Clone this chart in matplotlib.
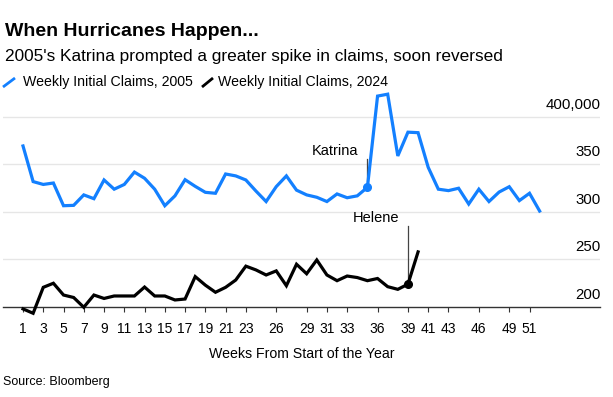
import matplotlib
matplotlib.use('Agg')
import matplotlib.pyplot as plt
from matplotlib.lines import Line2D

plt.rcParams['font.family'] = ['Liberation Sans', 'DejaVu Sans']

# weekly initial jobless claims, thousands
weeks_2005 = list(range(1, 53))
claims_2005 = [369.5, 332, 329, 330.5, 306.6, 307, 318, 314, 333.7, 324,
               329, 342, 335.5, 324, 306.6, 317, 334, 327, 320.7, 319.7,
               340, 338, 333.7, 322, 311, 326.7, 338, 323, 318, 315.5,
               311, 319, 315, 317, 326, 422, 424, 359, 384, 383.5,
               347, 324, 322.5, 325, 308.4, 324, 311, 321, 326.6, 312,
               319.7, 301]

weeks_2024 = list(range(1, 41))
claims_2024 = [198, 193.4, 220.7, 225, 212.6, 210, 199.7, 212.6, 209, 211.6,
               211.6, 211.6, 221, 211.6, 211.6, 207.4, 208.4, 232, 223, 215.5,
               220.7, 228.4, 243, 239, 233.7, 238, 222.4, 245, 235, 249.5,
               233.7, 227.7, 232.6, 231, 227.7, 230, 221.4, 218.6, 224, 258]

xticks = [1, 3, 5, 7, 9, 11, 13, 15, 17, 19, 21, 23, 26, 29, 31, 33, 36,
          39, 41, 43, 46, 49, 51]
yticks = [200, 250, 300, 350, 400]
ylabels = ['200', '250', '300', '350', '400,000']

katrina_week = 35
helene_week = 39

blue = '#1380ff'

fig = plt.figure(figsize=(6.13, 3.97), dpi=100)
ax = fig.add_axes([0.00447, 0.1908, 0.975, 0.5911])
ax.set_xlim(-1, 58)
ax.set_ylim(185, 432)

for v in yticks[1:]:
    ax.axhline(v, color='#e6e6e6', lw=1, zorder=0)

ax.plot(weeks_2005, claims_2005, color=blue, lw=2.3, solid_joinstyle='miter', zorder=3)
ax.plot(weeks_2024, claims_2024, color='black', lw=2.3, solid_joinstyle='miter', zorder=3)

# hurricane markers
k = claims_2005[katrina_week - 1]
h = claims_2024[helene_week - 1]
ax.plot([katrina_week, katrina_week], [k, 356], color='#444444', lw=0.9, zorder=2)
ax.plot([helene_week, helene_week], [h, 285], color='#444444', lw=0.9, zorder=2)
ax.plot(katrina_week, k, 'o', color=blue, ms=5.5, zorder=4)
ax.plot(helene_week, h, 'o', color='black', ms=5.5, zorder=4)
ax.text(katrina_week - 0.9, 364, 'Katrina', ha='right', va='center', fontsize=10.5)
ax.text(helene_week - 0.9, 293.7, 'Helene', ha='right', va='center', fontsize=10.5)

for s in ['top', 'right', 'left']:
    ax.spines[s].set_visible(False)
ax.spines['bottom'].set_position(('data', 200))
ax.spines['bottom'].set_color('#333333')
ax.spines['bottom'].set_linewidth(1)
ax.set_xticks(xticks)
ax.set_xticklabels([str(t) for t in xticks])
ax.tick_params(axis='x', length=3.5, width=0.8, color='#333333', pad=7, labelsize=10)
ax.set_yticks([])
ax.set_xlabel('Weeks From Start of the Year', fontsize=10.2, labelpad=8)

for v, lab in zip(yticks, ylabels):
    ax.annotate(lab, xy=(1, v), xycoords=('axes fraction', 'data'),
                xytext=(0, 6), textcoords='offset points',
                ha='right', va='baseline', fontsize=10.8)

# header
fig.text(0.008, 1 - 32 / 397, 'When Hurricanes Happen...', fontsize=14,
         fontweight='bold', va='center', ha='left')
fig.text(0.008, 1 - 57 / 397, "2005's Katrina prompted a greater spike in claims, soon reversed",
         fontsize=12.4, va='center', ha='left')

# legend
ly = 1 - 82 / 397
fig.add_artist(Line2D([3 / 613, 15 / 613], [1 - 87 / 397, 1 - 78 / 397], color=blue,
                      lw=2, solid_capstyle='butt'))
fig.text(23 / 613, ly, 'Weekly Initial Claims, 2005', fontsize=10.2, va='center')
fig.add_artist(Line2D([202 / 613, 213 / 613], [1 - 87 / 397, 1 - 78 / 397], color='black',
                      lw=2, solid_capstyle='butt'))
fig.text(218 / 613, ly, 'Weekly Initial Claims, 2024', fontsize=10.2, va='center')

fig.text(3 / 613, 1 - 382 / 397, 'Source: Bloomberg', fontsize=9, va='center')

fig.savefig('out.png', dpi=100)
